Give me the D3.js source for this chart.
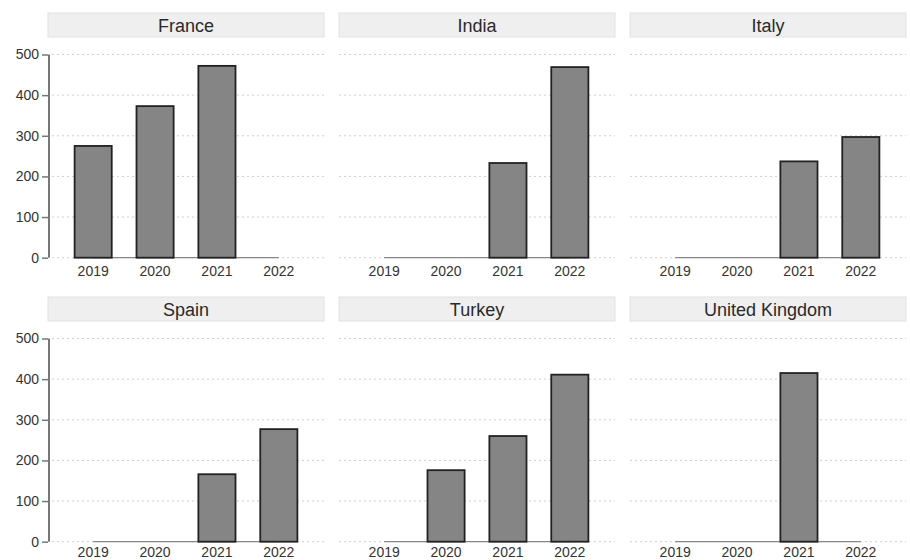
<!DOCTYPE html>
<html>
<head>
<meta charset="utf-8">
<script src="https://cdn.jsdelivr.net/npm/d3@7"></script>
<style>
    body { margin: 0; background: #fff; }
    text { font-family: "Liberation Sans", Arial, sans-serif; }
</style>
</head>
<body>
<div id="chart"></div>
<script>
// data
const countries = ["France", "India", "Italy", "Spain", "Turkey", "United Kingdom"];
const years = ["2019", "2020", "2021", "2022"];
const france = [275, 373, 472, 0];
const india = [0, 0, 233, 469];
const italy = [0, 0, 237, 297];
const spain = [0, 0, 166, 277];
const turkey = [0, 176, 260, 411];
const uk = [0, 0, 415, 0];
const yTicks = [0, 100, 200, 300, 400, 500];

const seriesList = [france, india, italy, spain, turkey, uk];

const width = 910, height = 560;
const svg = d3.select("#chart").append("svg")
    .attr("width", width)
    .attr("height", height);

// panel geometry
const colLeft = [48, 339, 630];
const panelW = 276;
const rowTop = [13, 297];       // strip top
const stripH = 24;
const plotTop = 41.5;           // offset from strip top to y=500
const plotH = 203.2;
const labelGap = [18, 15.5];    // bottom row squeezed so labels stay inside

const x = d3.scaleBand()
    .domain(years)
    .range([0, panelW])
    .paddingInner(0.4)
    .paddingOuter(0.43);

const y = d3.scaleLinear().domain([0, 500]).range([plotH, 0]);

countries.forEach((name, i) => {
    const col = i % 3, row = Math.floor(i / 3);
    const values = seriesList[i];
    const g = svg.append("g")
        .attr("transform", `translate(${colLeft[col]},${rowTop[row]})`);

    // strip
    g.append("rect")
        .attr("x", 0).attr("y", 0)
        .attr("width", panelW).attr("height", stripH)
        .attr("fill", "#efefef")
        .attr("stroke", "#e2e2e2");
    g.append("text")
        .attr("x", panelW / 2).attr("y", stripH / 2 + 6.5)
        .attr("text-anchor", "middle")
        .attr("font-size", 18)
        .attr("fill", "#2a2a2a")
        .text(name);

    const p = g.append("g").attr("transform", `translate(0,${plotTop})`);

    // dotted gridlines
    p.selectAll(".grid")
        .data(yTicks)
        .join("line")
        .attr("x1", col === 0 ? 4 : 0).attr("x2", panelW)
        .attr("y1", d => y(d)).attr("y2", d => y(d))
        .attr("stroke", "#cfcfcf")
        .attr("stroke-width", 1)
        .attr("stroke-dasharray", "2,3");

    // baseline from first to last year
    p.append("line")
        .attr("x1", x(years[0]) + x.bandwidth() / 2)
        .attr("x2", x(years[years.length - 1]) + x.bandwidth() / 2)
        .attr("y1", y(0)).attr("y2", y(0))
        .attr("stroke", "#888")
        .attr("stroke-width", 1.2);

    // bars
    p.selectAll(".bar")
        .data(years.map((yr, j) => ({ yr, v: values[j] })).filter(d => d.v > 0))
        .join("rect")
        .attr("x", d => x(d.yr))
        .attr("width", x.bandwidth())
        .attr("y", d => y(d.v))
        .attr("height", d => y(0) - y(d.v))
        .attr("fill", "#858585")
        .attr("stroke", "#222")
        .attr("stroke-width", 1.8);

    // x labels
    p.selectAll(".xl")
        .data(years)
        .join("text")
        .attr("x", d => x(d) + x.bandwidth() / 2)
        .attr("y", plotH + labelGap[row])
        .attr("text-anchor", "middle")
        .attr("font-size", 14)
        .attr("fill", "#333")
        .text(d => d);

    // y axis on left column
    if (col === 0) {
        const ax = p.append("g")
            .call(d3.axisLeft(y).tickValues(yTicks).tickSize(6).tickPadding(3));
        ax.select(".domain")
            .attr("stroke", "#777")
            .attr("stroke-width", 2)
            .attr("d", `M1,${y(500)}V${y(0)}`);
        ax.selectAll(".tick line").attr("stroke", "#777").attr("stroke-width", 1.5);
        ax.selectAll(".tick text")
            .attr("font-size", 14)
            .attr("fill", "#333")
            .attr("font-family", "Liberation Sans, Arial, sans-serif");
    }
});
</script>
</body>
</html>
